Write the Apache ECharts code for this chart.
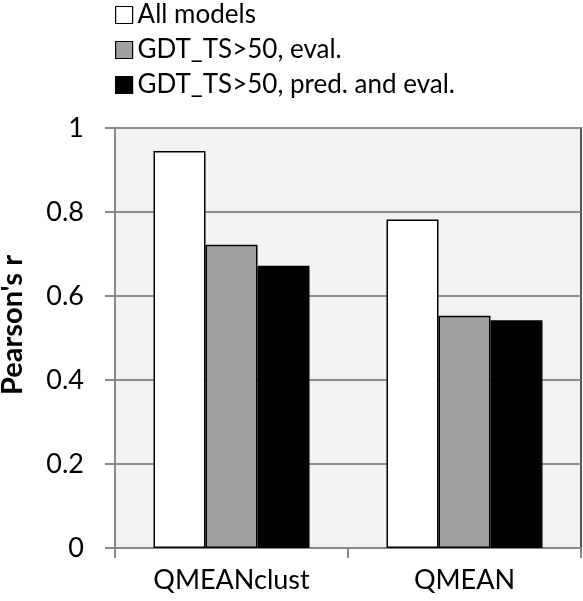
<!DOCTYPE html>
<html><head><meta charset="utf-8">
<script src="https://cdn.jsdelivr.net/npm/echarts@6/dist/echarts.min.js"></script>
<style>html,body{margin:0;padding:0;background:#fff}#c{width:583px;height:601px}</style>
</head><body><div id="c"></div>
<script>
const categories = ['QMEANclust', 'QMEAN'];
const seriesNames = ['All models', 'GDT_TS>50, eval.', 'GDT_TS>50, pred. and eval.'];
const allModels = [0.945, 0.782];
const evalOnly = [0.722, 0.553];
const predEval = [0.672, 0.542];
const yTicks = [0, 0.2, 0.4, 0.6, 0.8, 1];
const colors = ['#ffffff', '#a0a0a0', '#000000'];
const FONT = 'Lato';
const chart = echarts.init(document.getElementById('c'));
const values = [allModels, evalOnly, predEval];
chart.setOption({
  animation: false,
  backgroundColor: '#ffffff',
  textStyle: {fontFamily: FONT},
  legend: {
    orient: 'vertical', left: 110, top: -3, itemWidth: 17, itemHeight: 17, itemGap: 9,
    icon: 'rect',
    textStyle: {fontSize: 26, color: '#000', fontFamily: FONT, padding: [0,0,0,0]},
    data: seriesNames.map((n, i) => ({name: n, itemStyle: {color: colors[i], borderColor: '#000', borderWidth: 1.2}}))
  },
  grid: {left: 115, right: 2, top: 128, bottom: 53, outerBoundsMode: 'none', containLabel: false,
    show: true, backgroundColor: '#f2f2f2', borderColor: '#1a1a1a', borderWidth: 1.5},
  xAxis: {
    type: 'category', data: categories,
    axisLine: {lineStyle: {color: '#888', width: 2}},
    axisTick: {show: true, length: 10, lineStyle: {color: '#888', width: 2}},
    axisLabel: {fontSize: 27, color: '#000', margin: 19, fontFamily: FONT}
  },
  yAxis: {
    type: 'value', min: 0, max: 1, interval: 0.2,
    name: "Pearson's r", nameLocation: 'middle', nameGap: 88, nameRotate: 90,
    nameTextStyle: {fontSize: 29, fontWeight: 'bold', color: '#000', fontFamily: FONT, padding: [0, 0, 0, 26]},
    axisLine: {show: true, lineStyle: {color: '#888', width: 2}},
    axisTick: {show: true, length: 10, lineStyle: {color: '#888', width: 2}},
    axisLabel: {fontSize: 27, color: '#000', margin: 31, fontFamily: FONT,
      formatter: v => { const t = yTicks.find(x => Math.abs(x - v) < 1e-9); return t === undefined ? '' : String(t); }},
    splitLine: {lineStyle: {color: '#8c8c8c', width: 2}}
  },
  series: seriesNames.map((n, i) => ({
    name: n, type: 'bar', data: values[i], barWidth: 52, barGap: '0%',
    itemStyle: {color: colors[i], borderColor: '#000', borderWidth: 1.5}
  }))
});
</script></body></html>
